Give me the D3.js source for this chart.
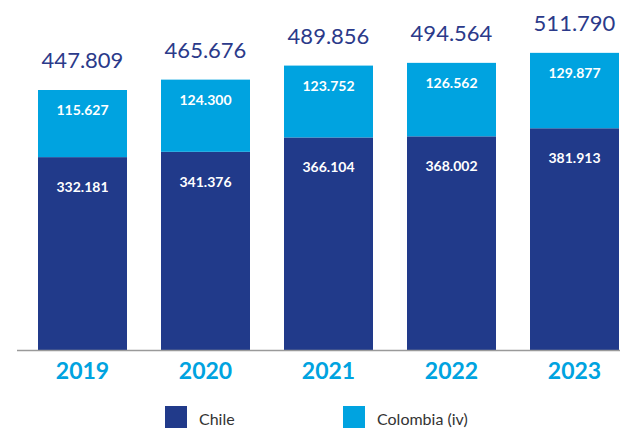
<!DOCTYPE html>
<html><head><meta charset="utf-8">
<script src="https://cdn.jsdelivr.net/npm/d3@7"></script>
<style>
html,body{margin:0;padding:0;background:#fff;}
svg{display:block;font-family:Lato,"Open Sans",sans-serif;}
</style></head>
<body>
<svg id="c" width="620" height="429"></svg>
<script>
const years = ["2019","2020","2021","2022","2023"];
const chile = [332.181, 341.376, 366.104, 368.002, 381.913];
const colombia = [115.627, 124.300, 123.752, 126.562, 129.877];
const totals = [447.809, 465.676, 489.856, 494.564, 511.790];
const seriesNames = ["Chile", "Colombia (iv)"];

const fmt = v => v.toFixed(3);
const colDark = "#213A8A", colLight = "#00A3E0";

const svg = d3.select("#c");
const x = d3.scaleBand().domain(years).range([21, 636]).paddingInner(0.2764).paddingOuter(0.1382);
const y = d3.scaleLinear().domain([0, 600]).range([350, 350 - 600 * 260 / 447.809]);

const data = years.map((yr, i) => ({yr, chile: chile[i], col: colombia[i], total: totals[i]}));

// bars
svg.selectAll("rect.chile").data(data).join("rect")
  .attr("x", d => x(d.yr)).attr("width", x.bandwidth())
  .attr("y", d => y(d.chile)).attr("height", d => y(0) - y(d.chile))
  .attr("fill", colDark);
svg.selectAll("rect.col").data(data).join("rect")
  .attr("x", d => x(d.yr)).attr("width", x.bandwidth())
  .attr("y", d => y(d.chile + d.col)).attr("height", d => y(d.chile) - y(d.chile + d.col))
  .attr("fill", colLight);

// inner labels
svg.selectAll("text.cl").data(data).join("text")
  .attr("x", d => x(d.yr) + x.bandwidth()/2).attr("y", d => y(d.chile) + 35)
  .attr("text-anchor","middle").attr("fill","#fff").attr("font-size",14).attr("font-weight",700)
  .text(d => fmt(d.chile));
svg.selectAll("text.co").data(data).join("text")
  .attr("x", d => x(d.yr) + x.bandwidth()/2).attr("y", d => y(d.chile + d.col) + 25)
  .attr("text-anchor","middle").attr("fill","#fff").attr("font-size",14).attr("font-weight",700)
  .text(d => fmt(d.col));
// totals
svg.selectAll("text.tot").data(data).join("text")
  .attr("x", d => x(d.yr) + x.bandwidth()/2).attr("y", d => y(d.total) - 22)
  .attr("text-anchor","middle").attr("fill","#2B3A8A").attr("font-size",22).attr("font-weight",400)
  .text(d => fmt(d.total));

// axis
const ax = svg.append("g").attr("transform", `translate(0,${y(0)})`)
  .call(d3.axisBottom(x).tickSize(0).tickPadding(8));
ax.select(".domain").remove();
ax.selectAll("text").attr("fill", colLight).attr("font-size", 23).attr("font-weight", 700)
  .attr("font-family","Lato,'Open Sans',sans-serif").attr("dy","0.9em");
svg.append("line").attr("x1",17).attr("x2",620).attr("y1",y(0)+0.5).attr("y2",y(0)+0.5)
  .attr("stroke","#9a9a9a").attr("stroke-width",1.5);

// legend
const legX = d3.scaleOrdinal().domain(seriesNames).range([165, 343]);
const legC = d3.scaleOrdinal().domain(seriesNames).range([colDark, colLight]);
const lg = svg.selectAll("g.leg").data(seriesNames).join("g")
  .attr("transform", d => `translate(${legX(d)},406)`);
lg.append("rect").attr("width",22).attr("height",22).attr("fill", d => legC(d));
lg.append("text").attr("x",34).attr("y",19).attr("fill","#333").attr("font-size",16).text(d => d);
</script>
</body></html>
